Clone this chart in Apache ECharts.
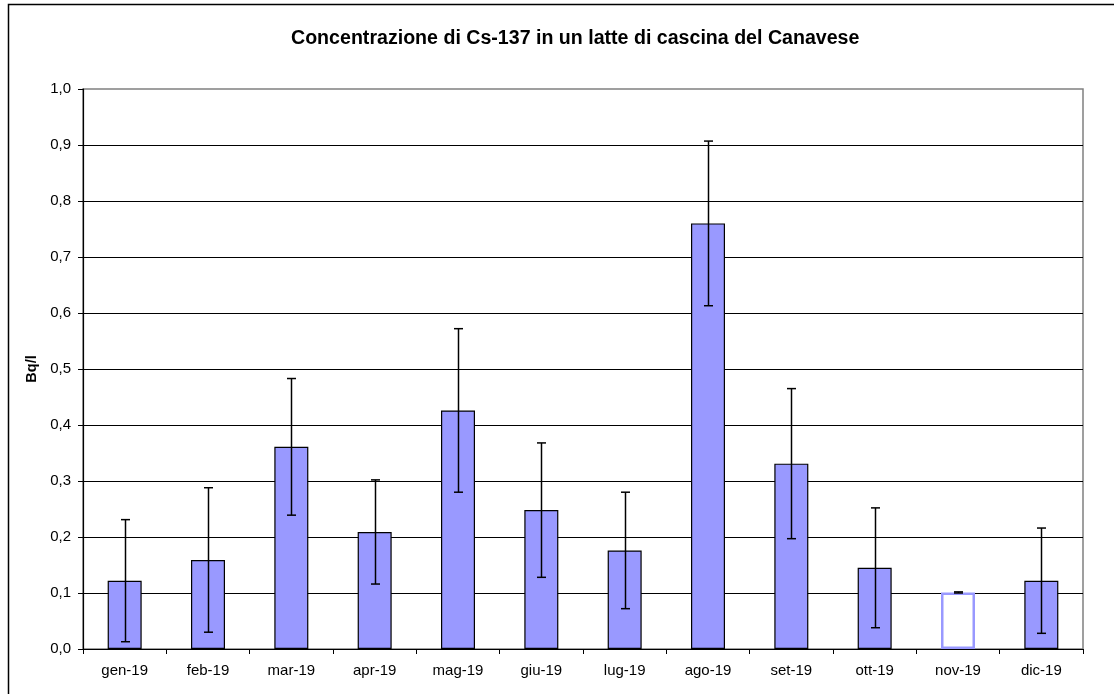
<!DOCTYPE html>
<html>
<head>
<meta charset="utf-8">
<script src="https://cdn.jsdelivr.net/npm/echarts@6/dist/echarts.min.js"></script>
<style>html,body{margin:0;padding:0;background:#fff;}#c{width:1114px;height:694px;}</style>
</head>
<body>
<div id="c"></div>
<script>
var categories = ['gen-19','feb-19','mar-19','apr-19','mag-19','giu-19','lug-19','ago-19','set-19','ott-19','nov-19','dic-19'];
var values = [0.122, 0.159, 0.361, 0.209, 0.426, 0.248, 0.176, 0.760, 0.331, 0.145, 0.101, 0.122];
var errors = [0.109, 0.129, 0.122, 0.093, 0.146, 0.120, 0.104, 0.147, 0.134, 0.107, 0.001, 0.094];
var yTicks = [0, 0.1, 0.2, 0.3, 0.4, 0.5, 0.6, 0.7, 0.8, 0.9, 1.0];
var titleText = 'Concentrazione di Cs-137 in un latte di cascina del Canavese';
var yName = 'Bq/l';
var hollowIndex = 10;

var FONT = "'Liberation Sans', Arial, sans-serif";
var chart = echarts.init(document.getElementById('c'));

var barData = values.map(function (v, i) {
  if (i === hollowIndex) {
    return { value: v, itemStyle: { color: '#ffffff', borderColor: '#9999FF', borderWidth: 2.5 } };
  }
  return v;
});
var errData = values.map(function (v, i) { return [i, v - errors[i], v + errors[i]]; });

chart.setOption({
  animation: false,
  backgroundColor: '#ffffff',
  title: {
    text: titleText,
    left: 286,
    top: 24,
    textStyle: { fontFamily: FONT, fontSize: 19.6, fontWeight: 'bold', color: '#000' }
  },
  graphic: [{
    type: 'rect',
    shape: { x: 8.5, y: 4.5, width: 1300, height: 900 },
    style: { fill: null, stroke: '#000', lineWidth: 1.5 },
    silent: true
  }],
  grid: {
    left: 83, right: 31, top: 89, bottom: 45,
    show: true, borderColor: '#808080', borderWidth: 1.5, backgroundColor: 'transparent'
  },
  xAxis: {
    type: 'category',
    data: categories,
    axisLine: { lineStyle: { color: '#000', width: 1.2 } },
    axisTick: { show: true, length: 5, lineStyle: { color: '#000' } },
    axisLabel: { fontFamily: FONT, fontSize: 15, color: '#000', margin: 14 }
  },
  yAxis: {
    type: 'value',
    min: 0, max: 1, interval: 0.1,
    name: yName,
    nameLocation: 'middle',
    nameRotate: 90,
    nameGap: 39,
    nameTextStyle: { fontFamily: FONT, fontSize: 14.5, fontWeight: 'bold', color: '#000' },
    axisLine: { show: true, lineStyle: { color: '#000', width: 1.2 } },
    axisTick: { show: true, length: 5, lineStyle: { color: '#000' } },
    axisLabel: {
      fontFamily: FONT, fontSize: 15, color: '#000', margin: 12,
      formatter: function (v) { return v.toFixed(1).replace('.', ','); }
    },
    splitLine: { show: true, showMaxLine: false, lineStyle: { color: '#000', width: 1 } }
  },
  series: [{
    type: 'bar',
    data: barData,
    barWidth: 34,
    itemStyle: { color: '#9999FF', borderColor: '#000', borderWidth: 1.2 },
    z: 2
  }, {
    type: 'custom',
    data: errData,
    z: 3,
    renderItem: function (params, api) {
      var x = api.value(0);
      var lo = api.coord([x, api.value(1)]);
      var hi = api.coord([x, api.value(2)]);
      var cx = Math.round(lo[0]) + 0.5;
      var hw = 4.5;
      var st = { stroke: '#000', lineWidth: 1.5 };
      return {
        type: 'group',
        children: [
          { type: 'line', shape: { x1: cx, y1: hi[1], x2: cx, y2: lo[1] }, style: st },
          { type: 'line', shape: { x1: cx - hw, y1: hi[1], x2: cx + hw, y2: hi[1] }, style: st },
          { type: 'line', shape: { x1: cx - hw, y1: lo[1], x2: cx + hw, y2: lo[1] }, style: st }
        ]
      };
    }
  }]
});
</script>
</body>
</html>
